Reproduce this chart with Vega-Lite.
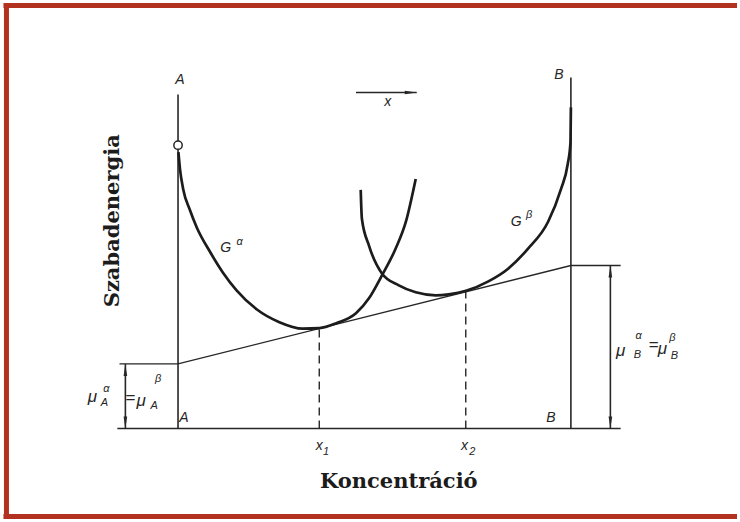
{
  "$schema": "https://vega.github.io/schema/vega-lite/v6.json",
  "width": 740,
  "height": 522,
  "autosize": {"type": "fit", "contains": "padding"},
  "padding": 0,
  "background": "white",
  "config": {"view": {"stroke": null}},
  "datasets": {
    "frame": [
      {"c": -0.4443, "g": 4.255, "c2": 1.4228, "g2": 4.255},
      {"c": -0.4367, "g": 4.28, "c2": -0.4367, "g2": -0.91},
      {"c": -0.4443, "g": -0.885, "c2": 1.4228, "g2": -0.885}
    ],
    "segments": [
      {"c": 0, "g": 0, "c2": 0, "g2": 3.36},
      {"c": 1, "g": 0, "c2": 1, "g2": 3.53},
      {"c": -0.1544, "g": 0, "c2": 1.1266, "g2": 0},
      {"c": -0.134, "g": 0, "c2": -0.134, "g2": 0.65},
      {"c": 1.1005, "g": 0, "c2": 1.1005, "g2": 1.64},
      {"c": 0.453, "g": 3.38, "c2": 0.6076, "g2": 3.38}
    ],
    "dashed": [
      {"c": 0.3595, "g": 0, "c2": 0.3595, "g2": 1.0},
      {"c": 0.7324, "g": 0, "c2": 0.7324, "g2": 1.375}
    ],
    "tangent": [
      {"i": 0, "c": -0.149, "g": 0.65},
      {"i": 1, "c": 0, "g": 0.65},
      {"i": 2, "c": 1, "g": 1.64},
      {"i": 3, "c": 1.1266, "g": 1.64}
    ],
    "galpha": [
      {"c": 0.001, "g": 2.78},
      {"c": 0.005, "g": 2.61},
      {"c": 0.013, "g": 2.41},
      {"c": 0.03, "g": 2.2},
      {"c": 0.048, "g": 2.02},
      {"c": 0.081, "g": 1.78},
      {"c": 0.114, "g": 1.57},
      {"c": 0.149, "g": 1.39},
      {"c": 0.2, "g": 1.2},
      {"c": 0.258, "g": 1.07},
      {"c": 0.317, "g": 1.005},
      {"c": 0.36, "g": 1.01},
      {"c": 0.403, "g": 1.06},
      {"c": 0.453, "g": 1.16},
      {"c": 0.486, "g": 1.31},
      {"c": 0.519, "g": 1.54},
      {"c": 0.554, "g": 1.81},
      {"c": 0.58, "g": 2.08},
      {"c": 0.605, "g": 2.51}
    ],
    "gbeta": [
      {"c": 0.465, "g": 2.4},
      {"c": 0.468, "g": 2.11},
      {"c": 0.486, "g": 1.84},
      {"c": 0.519, "g": 1.56},
      {"c": 0.562, "g": 1.44},
      {"c": 0.605, "g": 1.37},
      {"c": 0.656, "g": 1.34},
      {"c": 0.689, "g": 1.35},
      {"c": 0.733, "g": 1.385},
      {"c": 0.79, "g": 1.48},
      {"c": 0.841, "g": 1.61},
      {"c": 0.891, "g": 1.81},
      {"c": 0.942, "g": 2.08},
      {"c": 0.975, "g": 2.41},
      {"c": 0.992, "g": 2.66},
      {"c": 0.999, "g": 2.88},
      {"c": 1.0, "g": 3.23}
    ],
    "heads": [
      {"c": -0.134, "g": 0.65, "dir": "up"},
      {"c": -0.134, "g": 0, "dir": "down"},
      {"c": 1.1005, "g": 1.64, "dir": "up"},
      {"c": 1.1005, "g": 0, "dir": "down"},
      {"c": 0.6076, "g": 3.38, "dir": "right"}
    ],
    "pureA": [
      {"c": 0, "g": 2.85}
    ],
    "labels": [
      {"c": 0.005, "g": 3.51, "t": "A"},
      {"c": 0.9696, "g": 3.56, "t": "B"},
      {"c": 0.0152, "g": 0.11, "t": "A"},
      {"c": 0.949, "g": 0.11, "t": "B"},
      {"c": 0.534, "g": 3.28, "t": "x"},
      {"c": 0.3595, "g": -0.18, "t": "x"},
      {"c": 0.729, "g": -0.18, "t": "x"},
      {"c": 0.1215, "g": 1.82, "t": "G"},
      {"c": 0.861, "g": 2.08, "t": "G"}
    ],
    "chem": [
      {"c": -0.2177, "g": 0.32, "t": "μ"},
      {"c": -0.1215, "g": 0.31, "t": "="},
      {"c": -0.0937, "g": 0.28, "t": "μ"},
      {"c": 1.1266, "g": 0.78, "t": "μ"},
      {"c": 1.2101, "g": 0.84, "t": "="},
      {"c": 1.2329, "g": 0.8, "t": "μ"}
    ],
    "scripts": [
      {"c": -0.1823, "g": 0.4, "t": "α"},
      {"c": -0.1873, "g": 0.26, "t": "A"},
      {"c": -0.0506, "g": 0.5, "t": "β"},
      {"c": -0.0608, "g": 0.23, "t": "A"},
      {"c": 1.1722, "g": 0.93, "t": "α"},
      {"c": 1.1696, "g": 0.74, "t": "B"},
      {"c": 1.2582, "g": 0.91, "t": "β"},
      {"c": 1.2633, "g": 0.73, "t": "B"},
      {"c": 0.157, "g": 1.88, "t": "α"},
      {"c": 0.8937, "g": 2.15, "t": "β"},
      {"c": 0.377, "g": -0.24, "t": "1"},
      {"c": 0.749, "g": -0.24, "t": "2"}
    ],
    "xtitle": [
      {"c": 0.562, "g": -0.54, "t": "Koncentráció"}
    ],
    "ytitle": [
      {"c": -0.1646, "g": 2.09, "t": "Szabadenergia"}
    ]
  },
  "encoding": {
    "x": {"field": "c", "type": "quantitative", "scale": {"domain": [-0.4506, 1.4228], "nice": false, "zero": false}, "axis": null},
    "y": {"field": "g", "type": "quantitative", "scale": {"domain": [-0.91, 4.31], "nice": false, "zero": false}, "axis": null}
  },
  "layer": [
    {
      "data": {"name": "frame"},
      "mark": {"type": "rule", "color": "#b3311f", "strokeWidth": 5},
      "encoding": {"x2": {"field": "c2"}, "y2": {"field": "g2"}}
    },
    {
      "data": {"name": "segments"},
      "mark": {"type": "rule", "color": "#262626", "strokeWidth": 1.6},
      "encoding": {"x2": {"field": "c2"}, "y2": {"field": "g2"}}
    },
    {
      "data": {"name": "dashed"},
      "mark": {"type": "rule", "color": "#262626", "strokeWidth": 1.4, "strokeDash": [8, 5]},
      "encoding": {"x2": {"field": "c2"}, "y2": {"field": "g2"}}
    },
    {
      "data": {"name": "tangent"},
      "mark": {"type": "line", "color": "#262626", "strokeWidth": 1.4},
      "encoding": {"order": {"field": "i", "type": "quantitative"}}
    },
    {
      "data": {"name": "galpha"},
      "mark": {"type": "line", "color": "#1c1c1c", "strokeWidth": 2.7, "interpolate": "monotone"},
      "encoding": {}
    },
    {
      "data": {"name": "gbeta"},
      "mark": {"type": "line", "color": "#1c1c1c", "strokeWidth": 2.7, "interpolate": "monotone"},
      "encoding": {}
    },
    {
      "data": {"name": "heads"},
      "mark": {"type": "point", "filled": true, "opacity": 1, "size": 144, "color": "#262626"},
      "encoding": {
        "shape": {
          "field": "dir",
          "type": "nominal",
          "scale": {
            "domain": ["up", "down", "right"],
            "range": ["M0,0L0.3,2L-0.3,2Z", "M0,0L0.3,-2L-0.3,-2Z", "M0,0L-2,0.3L-2,-0.3Z"]
          },
          "legend": null
        }
      }
    },
    {
      "data": {"name": "pureA"},
      "mark": {"type": "point", "shape": "circle", "filled": true, "fill": "white", "stroke": "#262626", "strokeWidth": 1.5, "opacity": 1, "size": 70}
    },
    {
      "data": {"name": "labels"},
      "mark": {"type": "text", "font": "Liberation Sans", "fontStyle": "italic", "fontSize": 14, "color": "#262626", "align": "center", "baseline": "middle"},
      "encoding": {"text": {"field": "t"}}
    },
    {
      "data": {"name": "chem"},
      "mark": {"type": "text", "font": "Liberation Sans", "fontStyle": "italic", "fontSize": 17, "color": "#262626", "align": "center", "baseline": "middle"},
      "encoding": {"text": {"field": "t"}}
    },
    {
      "data": {"name": "scripts"},
      "mark": {"type": "text", "font": "Liberation Sans", "fontStyle": "italic", "fontSize": 11, "color": "#262626", "align": "center", "baseline": "middle"},
      "encoding": {"text": {"field": "t"}}
    },
    {
      "data": {"name": "xtitle"},
      "mark": {"type": "text", "font": "DejaVu Serif", "fontWeight": "bold", "fontSize": 21, "color": "#1c1c1c", "align": "center", "baseline": "middle"},
      "encoding": {"text": {"field": "t"}}
    },
    {
      "data": {"name": "ytitle"},
      "mark": {"type": "text", "font": "DejaVu Serif", "fontWeight": "bold", "fontSize": 21, "color": "#1c1c1c", "align": "center", "baseline": "middle", "angle": 270},
      "encoding": {"text": {"field": "t"}}
    }
  ]
}
